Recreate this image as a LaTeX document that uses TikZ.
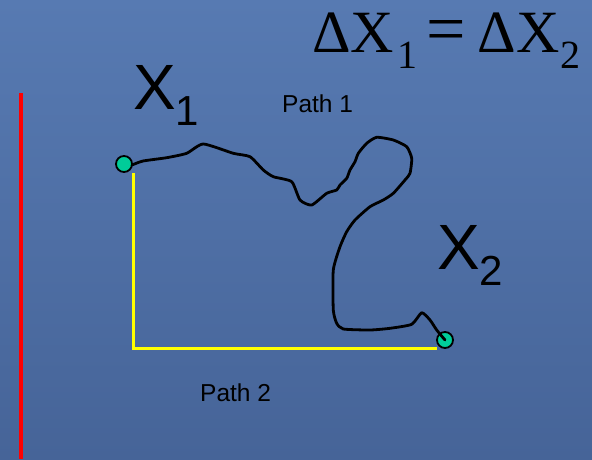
\documentclass[tikz,border=0pt]{standalone}
\usepackage{fontspec}
\setmainfont{Liberation Sans}
\newfontfamily\eqfont{Liberation Serif}
\definecolor{bgtop}{RGB}{87,122,178}
\definecolor{bgbot}{RGB}{70,100,152}
\definecolor{mint}{RGB}{0,204,153}
\definecolor{pathyellow}{RGB}{255,255,0}
\begin{document}
\begin{tikzpicture}[x=1pt,y=-1pt,
  dot/.style={circle,draw=black,line width=1.8pt,fill=mint,minimum size=16pt,inner sep=0pt},
  bigx/.style={anchor=base west,inner sep=0pt,font=\fontsize{64}{64}\selectfont},
  small/.style={anchor=base west,inner sep=0pt,font=\fontsize{24.5}{24.5}\selectfont},
  walk/.style={draw=black,line width=2.8pt,line join=round,line cap=round},
  route/.style={draw=pathyellow,line width=3pt},
  axis/.style={draw=red,line width=3.2pt}]
\shade[top color=bgtop,bottom color=bgbot] (0,0) rectangle (592,459);
\useasboundingbox (0,0) rectangle (592,459);
% red line
\coordinate (r1) at (21,93);
\coordinate (r2) at (21,459);
\draw[axis] (r1) -- (r2);
% dots
\node[dot] (c1) at (124,164) {};
\node[dot] (c2) at (445,340) {};
% yellow path
\coordinate (y1) at (133,173);
\coordinate (y2) at (437,348);
\draw[route] (y1) |- (y2);
% black path
\draw[walk] plot[smooth,tension=0.35] coordinates {(132,165) (143,161) (166.7,157.7) (186.7,153.3) (203.3,144) (233.3,153.3) (250,156.7) (263.3,170) (273.3,176.7) (291.7,181.7) (300,200) (311.7,205) (326.7,193.3) (336.7,190) (340,185) (346.7,178.3) (350,170) (355,161.7) (358.3,153.3) (366.7,143.3) (376.7,137.3) (393.3,140) (406.7,146.7) (411.7,158.3) (410,173.3) (405,180) (393.3,193.3) (383.3,200) (370,206.7) (355,220) (346.7,231.7) (340,246.7) (333.3,270) (333.3,310) (336.7,323.3) (343.3,329) (370,330) (390,328.3) (411.7,324.3) (421.7,312.7) (430,320) (436.7,330) (c2.center)};
% labels
\node[bigx] (x1) at (133,109) {X\raisebox{-16pt}{\fontsize{42}{42}\selectfont 1}};
\node[bigx] (x2) at (437,269) {X\raisebox{-16pt}{\fontsize{42}{42}\selectfont 2}};
\node[small] (p1) at (282,112) {Path 1};
\node[small] (p2) at (200,401) {Path 2};
\node[anchor=base west,inner sep=0pt,font=\eqfont\fontsize{60}{60}\selectfont] (eq) at (312,52)
  {\raisebox{0pt}[41pt][17pt]{ΔX\hspace{3pt}\raisebox{-16pt}{\fontsize{40}{40}\selectfont 1}\hspace{9pt}{\fontsize{70}{70}\selectfont =}\hspace{12pt}ΔX\hspace{1pt}\raisebox{-16pt}{\fontsize{40}{40}\selectfont 2}}};
\end{tikzpicture}
\end{document}
